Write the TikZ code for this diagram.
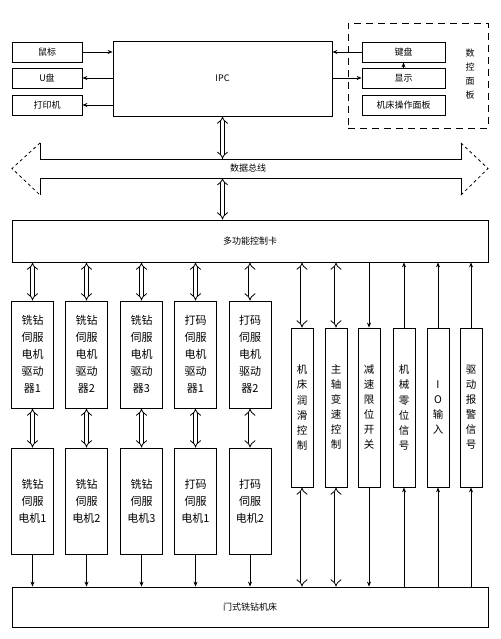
\documentclass[tikz,border=0pt]{standalone}
\usepackage{fontspec}
\newfontfamily\cjk{Noto Sans CJK SC}
\usetikzlibrary{arrows.meta}
\tikzset{
    box/.style={draw,thick,inner sep=0pt,align=center,font=\cjk\fontsize{9}{11}\selectfont},
    drvbox/.style={box,minimum width=42pt,font=\cjk\fontsize{11}{17}\selectfont},
    colbox/.style={box,minimum width=22pt,minimum height=159pt,font=\cjk\fontsize{10.5}{15}\selectfont},
    sig/.style={thick,-{Stealth[length=5pt,width=4pt]}},
    dbl/.style={double,double distance=3pt,thick,{Implies}-{Implies}},
}

\begin{document}
\begin{tikzpicture}[x=1pt,y=-1pt]
    \useasboundingbox (0,0) rectangle (500,639);
    % peripherals and IPC
    \node[box,minimum width=70pt,minimum height=20pt] (mouse) at (47,52) {鼠标};
    \node[box,minimum width=70pt,minimum height=20pt] (udisk) at (47,78) {U盘};
    \node[box,minimum width=70pt,minimum height=20pt] (printer) at (47,105) {打印机};
    \node[box,minimum width=219pt,minimum height=75pt] (ipc) at (222.5,78.5) {IPC};
    % CNC panel
    \node[draw,thick,dashed,dash pattern=on 7pt off 5pt,minimum width=140pt,minimum height=105pt] (panel) at (418,75.5) {};
    \node[box,minimum width=83pt,minimum height=20pt] (keys) at (403.5,52) {键盘};
    \node[box,minimum width=83pt,minimum height=20pt] (disp) at (403.5,78) {显示};
    \node[box,minimum width=83pt,minimum height=20pt] (opp) at (403.5,105) {机床操作面板};
    \node[font=\cjk\fontsize{9}{14}\selectfont,align=center] (plabel) at (470,74) {数\\控\\面\\板};
    \draw[sig] (mouse) -- (mouse.east -| ipc.west);
    \draw[sig] (udisk.east -| ipc.west) -- (udisk);
    \draw[sig] (printer.east -| ipc.west) -- (printer);
    \draw[sig] (keys) -- (keys.west -| ipc.east);
    \draw[sig] (disp.west -| ipc.east) -- (disp);
    \draw[sig] (disp) -- (keys);
    % data bus
    \coordinate (bl) at (40,159);
    \coordinate (br) at (461,178);
    \draw[thick] (40,143) -- (bl) -- (br |- bl) -- (461,143);
    \draw[thick] (40,195) -- (bl |- br) -- (br) -- (461,195);
    \draw[thick,dashed] (40,143) -- (12,168.5) -- (40,195);
    \draw[thick,dashed] (461,143) -- (488,168.5) -- (461,195);
    \node[font=\cjk\fontsize{9}{11}\selectfont] (bus) at (248,168.5) {数据总线};
    % control card
    \node[box,minimum width=476pt,minimum height=42pt] (card) at (250,241) {多功能控制卡};
    \draw[dbl] (ipc.south) -- (ipc.south |- bl);
    \draw[dbl] (ipc.south |- br) -- (ipc.south |- card.north);
    % servo drivers and motors
    \node[drvbox,minimum height=107pt] (d1) at (32.5,354.5) {铣钻\\伺服\\电机\\驱动\\器1};
    \node[drvbox,minimum height=107pt] (d2) at (86.5,354.5) {铣钻\\伺服\\电机\\驱动\\器2};
    \node[drvbox,minimum height=107pt] (d3) at (141.5,354.5) {铣钻\\伺服\\电机\\驱动\\器3};
    \node[drvbox,minimum height=107pt] (d4) at (195.5,354.5) {打码\\伺服\\电机\\驱动\\器1};
    \node[drvbox,minimum height=107pt] (d5) at (250,354.5) {打码\\伺服\\电机\\驱动\\器2};
    \node[drvbox,minimum height=106pt] (m1) at (32.5,501) {铣钻\\伺服\\电机1};
    \node[drvbox,minimum height=106pt] (m2) at (86.5,501) {铣钻\\伺服\\电机2};
    \node[drvbox,minimum height=106pt] (m3) at (141.5,501) {铣钻\\伺服\\电机3};
    \node[drvbox,minimum height=106pt] (m4) at (195.5,501) {打码\\伺服\\电机1};
    \node[drvbox,minimum height=106pt] (m5) at (250,501) {打码\\伺服\\电机2};
    % IO signals
    \node[colbox] (c1) at (302,407.5) {机\\床\\润\\滑\\控\\制};
    \node[colbox] (c2) at (336,407.5) {主\\轴\\变\\速\\控\\制};
    \node[colbox] (c3) at (369,407.5) {减\\速\\限\\位\\开\\关};
    \node[colbox] (c4) at (404,407.5) {机\\械\\零\\位\\信\\号};
    \node[colbox] (c5) at (438,407.5) {I\\O\\输\\入};
    \node[colbox] (c6) at (471,407.5) {驱\\动\\报\\警\\信\\号};
    % machine
    \node[box,minimum width=476pt,minimum height=40pt] (mach) at (250,607) {门式铣钻机床};
    \draw[dbl] (card.south -| d1) -- (d1.north);
    \draw[dbl] (card.south -| d2) -- (d2.north);
    \draw[dbl] (card.south -| d3) -- (d3.north);
    \draw[dbl] (card.south -| d4) -- (d4.north);
    \draw[dbl] (card.south -| d5) -- (d5.north);
    \draw[dbl] (d1) -- (m1);
    \draw[dbl] (d2) -- (m2);
    \draw[dbl] (d3) -- (m3);
    \draw[dbl] (d4) -- (m4);
    \draw[dbl] (d5) -- (m5);
    \draw[sig] (m1) -- (m1 |- mach.north);
    \draw[sig] (m2) -- (m2 |- mach.north);
    \draw[sig] (m3) -- (m3 |- mach.north);
    \draw[sig] (m4) -- (m4 |- mach.north);
    \draw[sig] (m5) -- (m5 |- mach.north);
    \draw[dbl] (card.south -| c1) -- (c1.north);
    \draw[dbl] (card.south -| c2) -- (c2.north);
    \draw[dbl] (c1) -- (c1 |- mach.north);
    \draw[dbl] (c2) -- (c2 |- mach.north);
    \draw[sig] (card.south -| c3) -- (c3.north);
    \draw[sig] (c3) -- (c3 |- mach.north);
    \draw[sig] (c4) -- (card.south -| c4);
    \draw[sig] (c5) -- (card.south -| c5);
    \draw[sig] (c6) -- (card.south -| c6);
    \draw[sig] (c4 |- mach.north) -- (c4);
    \draw[sig] (c5 |- mach.north) -- (c5);
    \draw[sig] (c6 |- mach.north) -- (c6);
\end{tikzpicture}
\end{document}
